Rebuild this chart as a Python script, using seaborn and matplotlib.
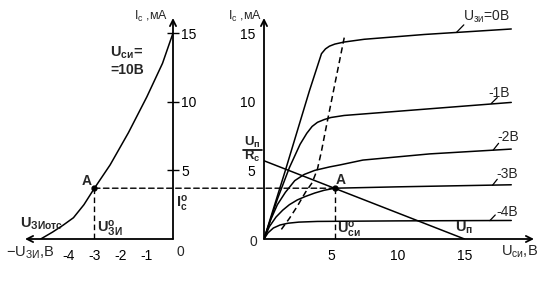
import matplotlib
matplotlib.use("Agg")
import matplotlib.pyplot as plt
import seaborn as sns
from matplotlib.patches import ConnectionPatch

# ---------------- data ----------------
# transfer characteristic (left), U_ds = 10 V
ugs_transfer = [-5.05, -4.6, -4.2, -3.8, -3.4, -3.0, -2.4, -1.7, -1.0, -0.4, 0.0]
ic_transfer = [0.0, 0.5, 1.0, 1.55, 2.5, 3.7, 5.4, 7.75, 10.35, 12.8, 15.0]

# output characteristics (right)
gate_labels = ["Uзи=0В", "-1В", "-2В", "-3В", "-4В"]
vds_0 = [0, 1.6, 3.4, 4.3, 4.6, 4.9, 5.3, 6.0, 7.5, 12.0, 18.5]
id_0 = [0, 5.0, 10.8, 13.5, 13.85, 14.05, 14.2, 14.35, 14.55, 14.9, 15.3]
vds_1 = [0, 1.0, 1.9, 2.7, 3.2, 3.6, 4.0, 4.5, 5.0, 6.0, 18.5]
id_1 = [0, 2.9, 5.2, 6.9, 7.7, 8.2, 8.5, 8.7, 8.85, 9.0, 9.95]
vds_2 = [0, 0.5, 1.0, 1.6, 2.3, 3.0, 3.8, 4.9, 5.7, 7.4, 12.4, 18.5]
id_2 = [0, 1.4, 2.5, 3.4, 4.25, 4.7, 5.0, 5.25, 5.4, 5.75, 6.2, 6.55]
vds_3 = [0, 0.4, 0.9, 1.4, 1.9, 2.5, 3.1, 3.8, 4.5, 5.3, 10.0, 18.5]
id_3 = [0, 0.9, 1.6, 2.1, 2.5, 2.85, 3.1, 3.35, 3.55, 3.7, 3.8, 3.95]
vds_4 = [0, 0.3, 0.7, 1.2, 1.8, 2.6, 4.0, 10.0, 18.5]
id_4 = [0, 0.45, 0.8, 1.02, 1.15, 1.23, 1.28, 1.32, 1.35]

# saturation boundary (dashed)
vds_sat = [1.3, 1.9, 2.5, 3.1, 3.6, 4.0, 4.3, 4.6, 5.2, 6.05]
id_sat = [0.7, 1.5, 2.4, 3.4, 4.1, 5.1, 6.4, 7.9, 10.8, 14.9]

# load line
vds_load = [0.0, 15.0]
id_load = [5.7, 0.0]

# operating point A
ugs_A = -3.0
vds_A = 5.3
ic_A = 3.7

x_ticks_left = [-5, -4, -3, -2, -1]
x_ticklabels_left = ["", "-4", "-3", "-2", "-1"]
y_ticks = [5, 10, 15]
x_ticks_right = [5, 10, 15]

# ---------------- style ----------------
sns.set_theme(style="white")
plt.rcParams["font.family"] = ["Liberation Sans", "DejaVu Sans"]
plt.rcParams["mathtext.fontset"] = "custom"
plt.rcParams["mathtext.rm"] = "Liberation Sans"
plt.rcParams["mathtext.it"] = "Liberation Sans"
plt.rcParams["mathtext.bf"] = "Liberation Sans:bold"

W, H = 552, 290
fig = plt.figure(figsize=(W / 100, H / 100), dpi=100)
fig.patch.set_facecolor("white")

YMAX = 16.1
axL = fig.add_axes([25 / W, 51 / H, 148 / W, 221 / H])
axR = fig.add_axes([264 / W, 51 / H, 270 / W, 221 / H])
axL.set_xlim(-5.65, 0)
axR.set_xlim(0, 20.2)
for ax in (axL, axR):
    ax.set_ylim(0, YMAX)
    ax.patch.set_alpha(0)
    for s in ax.spines.values():
        s.set_visible(False)

LW = 1.1
k = "black"
DASH = (0, (4, 2.5))
arrow = dict(arrowstyle="->", lw=1.3, color=k, shrinkA=0, shrinkB=0, mutation_scale=11)


def line(ax, x, y, **kw):
    sns.lineplot(x=x, y=y, sort=False, estimator=None, color=k, ax=ax, **kw)


# ---- left axes ----
axL.annotate("", xy=(-5.65, 0), xytext=(0, 0), arrowprops=arrow, annotation_clip=False)
axL.annotate("", xy=(0, YMAX), xytext=(0, 0), arrowprops=arrow, annotation_clip=False)
line(axL, ugs_transfer, ic_transfer, lw=LW)
line(axL, [ugs_A, ugs_A], [ic_A, 0], lw=1.0, linestyle=DASH)
axL.plot([ugs_A], [ic_A], "o", color=k, ms=3.5, clip_on=False)
axL.yaxis.tick_right()
axL.set_yticks(y_ticks)
axL.set_xticks(x_ticks_left)
axL.set_xticklabels(x_ticklabels_left)
axL.tick_params(axis="both", direction="inout", length=8, width=1.0, colors=k,
                labelsize=10, pad=3)
axL.tick_params(axis="y", pad=2)
axL.set_xlabel("")
axL.set_ylabel("")

fs = 10
axL.text(-0.19, 15.95, r"$\mathregular{I_с}$ ,мА", ha="right", va="baseline", fontsize=9)
axL.text(-1.76, 13.6, r"$\mathregular{U_{си}}$=", ha="center", va="center", fontsize=10.5, fontweight="bold")
axL.text(-1.76, 12.3, "=10В", ha="center", va="center", fontsize=10, fontweight="bold")
axL.text(-3.1, 3.75, "A", ha="right", va="bottom", fontsize=fs, fontweight="bold")
axL.text(0.1, 2.55, r"$\mathregular{I^{o}_{с}}$", ha="left", va="center", fontsize=10.5, fontweight="bold")
axL.text(-5.84, 1.1, r"$\mathregular{U_{ЗИотс}}$", ha="left", va="center", fontsize=10.5, fontweight="bold")
axL.text(-2.9, 0.73, r"$\mathregular{U^{o}_{ЗИ}}$", ha="left", va="center", fontsize=10.5, fontweight="bold")
axL.text(-4.55, -1.02, r"$-\mathregular{U_{ЗИ}}$,В", ha="right", va="center", fontsize=10.5)
axL.text(0.27, -0.95, "0", ha="center", va="center", fontsize=fs)

# ---- right axes ----
axR.annotate("", xy=(20.2, 0), xytext=(0, 0), arrowprops=arrow, annotation_clip=False)
axR.annotate("", xy=(0, YMAX), xytext=(0, 0), arrowprops=arrow, annotation_clip=False)
for vv, ii in [(vds_0, id_0), (vds_1, id_1), (vds_2, id_2), (vds_3, id_3), (vds_4, id_4)]:
    line(axR, vv, ii, lw=LW)
line(axR, vds_sat, id_sat, lw=1.1, linestyle=DASH)
line(axR, vds_load, id_load, lw=LW)
line(axR, [vds_A, vds_A], [ic_A, 0], lw=1.0, linestyle=DASH)
axR.plot([vds_A], [ic_A], "o", color=k, ms=3.5, clip_on=False)
axR.set_yticks(y_ticks)
axR.set_xticks(x_ticks_right)
axR.tick_params(axis="both", direction="inout", length=8, width=1.0, colors=k,
                labelsize=10, pad=3)
axR.tick_params(axis="y", pad=2)
axR.set_xlabel("")
axR.set_ylabel("")

# horizontal dashed link between the two points A
con = ConnectionPatch(xyA=(ugs_A, ic_A), coordsA=axL.transData,
                      xyB=(vds_A, ic_A), coordsB=axR.transData,
                      color=k, lw=1.0, linestyle=DASH)
fig.add_artist(con)

axR.text(-0.15, 15.95, r"$\mathregular{I_с}$ ,мА", ha="right", va="baseline", fontsize=9)
# U_п / R_c fraction
axR.text(-0.86, 7.05, r"$\mathregular{U_п}$", ha="center", va="center", fontsize=9.5, fontweight="bold")
axR.text(-0.86, 6.0, r"$\mathregular{R_c}$", ha="center", va="center", fontsize=9.5, fontweight="bold")
axR.plot([-1.6, -0.15], [6.5, 6.5], color=k, lw=1.2, clip_on=False)
axR.text(-0.82, -0.22, "0", ha="center", va="center", fontsize=fs)
axR.text(5.7, 4.3, "A", ha="center", va="center", fontsize=fs, fontweight="bold")
axR.text(5.46, 0.66, r"$\mathregular{U^{o}_{си}}$", ha="left", va="center", fontsize=10.5, fontweight="bold")
axR.text(15.0, 0.8, r"$\mathregular{U_п}$", ha="center", va="center", fontsize=10.5, fontweight="bold")
axR.text(19.1, -0.95, r"$\mathregular{U_{си}}$,В", ha="center", va="center", fontsize=10.5)

# curve labels with leaders
lab_pos = [(16.6, 16.2), (17.6, 10.6), (18.3, 7.4), (18.2, 4.7), (18.2, 2.0)]
lead_from = [(14.4, 15.05), (17.0, 9.87), (17.15, 6.48), (17.1, 3.92), (16.9, 1.34)]
lead_to = [(14.95, 15.6), (17.45, 10.3), (17.55, 6.97), (17.45, 4.35), (17.3, 1.75)]
for lab, p, a, b in zip(gate_labels, lab_pos, lead_from, lead_to):
    axR.plot([a[0], b[0]], [a[1], b[1]], color=k, lw=0.9, clip_on=False)
    if lab.startswith("U"):
        txt = r"$\mathregular{U_{зи}}$=0В"
    else:
        txt = lab
    axR.text(p[0], p[1], txt, ha="center", va="center", fontsize=10)

fig.savefig("out.png", dpi=100, facecolor="white")
